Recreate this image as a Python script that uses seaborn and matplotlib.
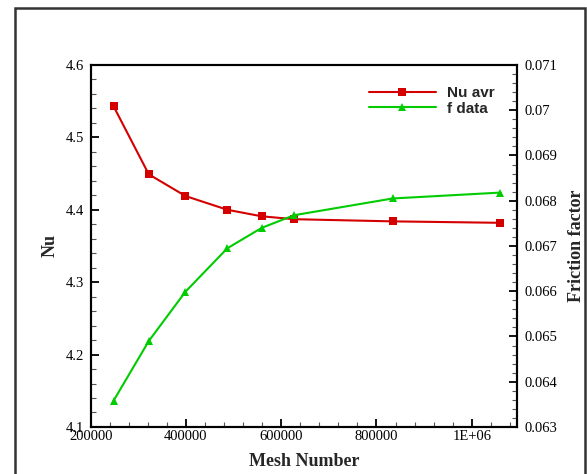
import numpy as np
import pandas as pd
import seaborn as sns
import matplotlib.pyplot as plt
from matplotlib.patches import Rectangle
from matplotlib.ticker import MultipleLocator, AutoMinorLocator, FuncFormatter
from matplotlib.lines import Line2D

# data
mesh = [248000, 322000, 399000, 487000, 559000, 627000, 834000, 1060000]
nu_avr = [4.543, 4.449, 4.419, 4.400, 4.391, 4.387, 4.384, 4.382]
f_data = [0.06358, 0.06490, 0.06599, 0.06695, 0.06740, 0.06768, 0.06805, 0.06818]

df = pd.DataFrame({"mesh": mesh, "nu": nu_avr, "f": f_data})

sns.set_style("white")
plt.rcParams["font.family"] = ["Liberation Serif", "DejaVu Serif"]
plt.rcParams["xtick.direction"] = "in"
plt.rcParams["ytick.direction"] = "in"

red = "#d40000"
green = "#00cc00"

fig = plt.figure(figsize=(5.87, 4.74), dpi=100)
ax = fig.add_axes([0.1545, 0.0992, 0.7262, 0.7637])
ax2 = ax.twinx()

sns.lineplot(data=df, x="mesh", y="nu", ax=ax, color=red, lw=1.5,
             marker="s", markersize=6, markeredgewidth=0, markeredgecolor=red)
sns.lineplot(data=df, x="mesh", y="f", ax=ax2, color=green, lw=1.5,
             marker="^", markersize=6, markeredgewidth=0, markeredgecolor=green)

ax.set_xlim(200000, 1095000)
ax.set_ylim(4.1, 4.6)
ax2.set_ylim(0.063, 0.071)

ax.xaxis.set_major_locator(MultipleLocator(200000))
ax.xaxis.set_minor_locator(AutoMinorLocator(5))
ax.yaxis.set_major_locator(MultipleLocator(0.1))
ax.yaxis.set_minor_locator(AutoMinorLocator(5))
ax2.yaxis.set_major_locator(MultipleLocator(0.001))
ax2.yaxis.set_minor_locator(AutoMinorLocator(5))

def xfmt(v, pos):
    if v >= 1e6:
        return "1E+06"
    return "%d" % v

ax.xaxis.set_major_formatter(FuncFormatter(xfmt))
ax.yaxis.set_major_formatter(FuncFormatter(lambda v, p: "%g" % round(v, 2)))
ax2.yaxis.set_major_formatter(FuncFormatter(lambda v, p: "%g" % round(v, 4)))

for a in (ax, ax2):
    for s in a.spines.values():
        s.set_color("black")
        s.set_linewidth(1.5)
    a.tick_params(which="major", length=6, width=1.3, labelsize=10.5, colors="black", pad=4.5)
    a.tick_params(which="minor", length=3.5, width=0.8, colors="#555555")
ax.tick_params(axis="x", which="both", bottom=True, top=False, pad=2.5)
ax.tick_params(axis="y", which="both", left=True, right=False)
ax2.tick_params(axis="y", which="both", right=True, left=False, pad=5.5)

ax.set_xlabel("Mesh Number", fontsize=13, fontweight="bold")
ax.set_ylabel("Nu", fontsize=13, fontweight="bold")
ax2.set_ylabel("Friction factor", fontsize=13, fontweight="bold")
ax.xaxis.set_label_coords(0.5, -0.072)
ax.yaxis.set_label_coords(-0.075, 0.5)
ax2.yaxis.set_label_coords(1.12, 0.5)

handles = [
    Line2D([], [], color=red, lw=1.5, marker="s", markersize=6, markeredgewidth=0),
    Line2D([], [], color=green, lw=1.5, marker="^", markersize=6, markeredgewidth=0),
]
ax2.legend(handles, ["Nu avr", "f data"], loc="upper left", bbox_to_anchor=(0.62, 0.98),
           frameon=False, handlelength=4.4, handletextpad=0.7, labelspacing=0.12,
           prop={"family": "Liberation Sans", "weight": "bold", "size": 11})

# outer frame around the figure
fig.patches.append(Rectangle((15 / 587, -0.05), 570 / 587, 1.05 - 8 / 474,
                             transform=fig.transFigure, fill=False,
                             edgecolor="#333333", lw=1.8, clip_on=False))

fig.savefig("out.png", dpi=100)
